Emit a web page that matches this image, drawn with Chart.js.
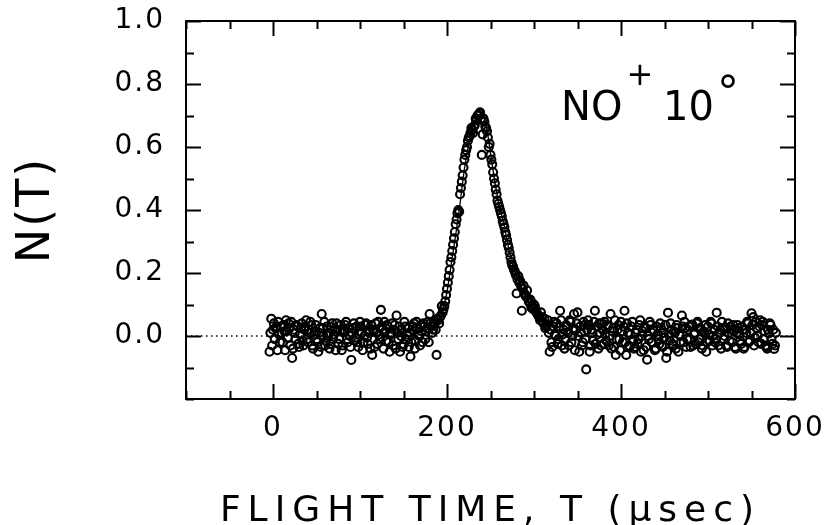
<!DOCTYPE html>
<html>
<head>
<meta charset="utf-8">
<script src="https://cdn.jsdelivr.net/npm/chart.js@4.4.0/dist/chart.umd.min.js"></script>
<style>
  html, body { margin: 0; padding: 0; background: #fff; }
  #wrap { width: 829px; height: 525px; }
</style>
</head>
<body>
<div id="wrap"><canvas id="tof"></canvas></div>
<script>
// measured points, even channels: flight time (usec) and N(T)
var times = [
  -4, -2, 0, 2, 4, 6, 8, 10, 12, 14,
  16, 18, 20, 22, 24, 26, 28, 30, 32, 34,
  36, 38, 40, 42, 44, 46, 48, 50, 52, 54,
  56, 58, 60, 62, 64, 66, 68, 70, 72, 74,
  76, 78, 80, 82, 84, 86, 88, 90, 92, 94,
  96, 98, 100, 102, 104, 106, 108, 110, 112, 114,
  116, 118, 120, 122, 124, 126, 128, 130, 132, 134,
  136, 138, 140, 142, 144, 146, 148, 150, 152, 154,
  156, 158, 160, 162, 164, 166, 168, 170, 172, 174,
  176, 178, 180, 182, 184, 186, 188, 190, 192, 194,
  196, 198, 200, 202, 204, 206, 208, 210, 212, 214,
  216, 218, 220, 222, 224, 226, 228, 230, 232, 234,
  236, 238, 240, 242, 244, 246, 248, 250, 252, 254,
  256, 258, 260, 262, 264, 266, 268, 270, 272, 274,
  276, 278, 280, 282, 284, 286, 288, 290, 292, 294,
  296, 298, 300, 302, 304, 306, 308, 310, 312, 314,
  316, 318, 320, 322, 324, 326, 328, 330, 332, 334,
  336, 338, 340, 342, 344, 346, 348, 350, 352, 354,
  356, 358, 360, 362, 364, 366, 368, 370, 372, 374,
  376, 378, 380, 382, 384, 386, 388, 390, 392, 394,
  396, 398, 400, 402, 404, 406, 408, 410, 412, 414,
  416, 418, 420, 422, 424, 426, 428, 430, 432, 434,
  436, 438, 440, 442, 444, 446, 448, 450, 452, 454,
  456, 458, 460, 462, 464, 466, 468, 470, 472, 474,
  476, 478, 480, 482, 484, 486, 488, 490, 492, 494,
  496, 498, 500, 502, 504, 506, 508, 510, 512, 514,
  516, 518, 520, 522, 524, 526, 528, 530, 532, 534,
  536, 538, 540, 542, 544, 546, 548, 550, 552, 554,
  556, 558, 560, 562, 564, 566, 568, 570, 572, 574,
  576, 578
];
var counts = [
  -0.05, 0.055, 0.02, -0.01, 0.03, 0.045, -0.02, 0.01, 0.035, -0.045,
  0.015, 0.04, -0.03, -0.07, 0.02, -0.01, 0.03, -0.035, 0.025, -0.015,
  0.02, 0.05, -0.02, 0.01, 0.035, -0.04, 0.015, -0.01, -0.05, 0.025,
  0.07, 0.0, -0.03, 0.03, 0.01, -0.025, 0.04, 0.005, -0.045, 0.02,
  -0.01, 0.035, -0.03, 0.015, 0.045, -0.02, 0.0, -0.076, 0.025, -0.015,
  0.03, -0.035, 0.045, 0.01, -0.02, 0.035, -0.005, 0.02, -0.04, -0.06,
  0.015, 0.04, -0.025, 0.005, 0.083, 0.02, 0.045, -0.015, 0.03, -0.05,
  0.01, -0.03, 0.035, 0.065, -0.01, -0.05, 0.02, -0.025, 0.03, 0.005,
  -0.035, -0.065, 0.02, 0.04, -0.015, 0.025, 0.0, 0.035, -0.02, 0.03,
  0.015, 0.045, 0.07, 0.03, 0.02, 0.04, -0.06, 0.05, 0.06, 0.095,
  0.085, 0.11, 0.15, 0.19, 0.235, 0.27, 0.31, 0.355, 0.39, 0.395,
  0.47, 0.51, 0.56, 0.59, 0.62, 0.635, 0.66, 0.645, 0.67, 0.685,
  0.70, 0.71, 0.575, 0.69, 0.665, 0.65, 0.60, 0.575, 0.545, 0.50,
  0.465, 0.43, 0.41, 0.39, 0.365, 0.345, 0.32, 0.29, 0.265, 0.235,
  0.22, 0.205, 0.135, 0.19, 0.175, 0.08, 0.16, 0.13, 0.145, 0.11,
  0.115, 0.095, 0.10, 0.08, 0.07, 0.06, 0.075, 0.045, 0.055, 0.03,
  0.05, -0.05, -0.02, 0.03, 0.005, 0.04, -0.01, 0.08, -0.03, 0.02,
  -0.01, 0.03, -0.03, 0.045, 0.0, 0.07, 0.02, 0.075, -0.05, 0.01,
  -0.02, 0.035, -0.106, 0.05, -0.05, 0.02, -0.015, 0.08, 0.03, -0.04,
  0.01, 0.04, -0.025, 0.005, 0.035, -0.03, 0.07, 0.015, -0.035, -0.06,
  0.02, -0.01, 0.045, -0.02, 0.08, -0.06, 0.01, -0.035, 0.03, -0.015,
  -0.035, 0.02, -0.01, 0.05, 0.0, -0.045, 0.025, -0.075, -0.01, 0.035,
  -0.02, 0.015, -0.04, 0.005, -0.025, 0.025, -0.035, -0.005, -0.07, 0.074,
  -0.015, 0.02, -0.03, 0.01, 0.035, -0.05, 0.0, 0.065, -0.02, 0.025,
  -0.01, 0.03, -0.035, 0.036, 0.005, -0.025, 0.045, -0.01, 0.02, -0.03,
  0.01, -0.05, 0.03, -0.015, 0.04, 0.0, -0.02, 0.074, -0.03, 0.02,
  0.045, -0.01, 0.025, -0.035, 0.01, 0.03, -0.02, 0.015, -0.04, 0.035,
  0.005, -0.025, 0.02, -0.035, 0.01, 0.04, -0.015, 0.072, 0.06, -0.005,
  0.025, -0.02, 0.05, 0.035, -0.01, -0.03, -0.04, 0.008, 0.035, -0.025,
  -0.041, 0.01
];
// measured points, odd channels
var timesB = [
  -3, -1, 1, 3, 5, 7, 9, 11, 13, 15,
  17, 19, 21, 23, 25, 27, 29, 31, 33, 35,
  37, 39, 41, 43, 45, 47, 49, 51, 53, 55,
  57, 59, 61, 63, 65, 67, 69, 71, 73, 75,
  77, 79, 81, 83, 85, 87, 89, 91, 93, 95,
  97, 99, 101, 103, 105, 107, 109, 111, 113, 115,
  117, 119, 121, 123, 125, 127, 129, 131, 133, 135,
  137, 139, 141, 143, 145, 147, 149, 151, 153, 155,
  157, 159, 161, 163, 165, 167, 169, 171, 173, 175,
  177, 179, 181, 183, 185, 187, 189, 191, 193, 195,
  197, 199, 201, 203, 205, 207, 209, 211, 213, 215,
  217, 219, 221, 223, 225, 227, 229, 231, 233, 235,
  237, 239, 241, 243, 245, 247, 249, 251, 253, 255,
  257, 259, 261, 263, 265, 267, 269, 271, 273, 275,
  277, 279, 281, 283, 285, 287, 289, 291, 293, 295,
  297, 299, 301, 303, 305, 307, 309, 311, 313, 315,
  317, 319, 321, 323, 325, 327, 329, 331, 333, 335,
  337, 339, 341, 343, 345, 347, 349, 351, 353, 355,
  357, 359, 361, 363, 365, 367, 369, 371, 373, 375,
  377, 379, 381, 383, 385, 387, 389, 391, 393, 395,
  397, 399, 401, 403, 405, 407, 409, 411, 413, 415,
  417, 419, 421, 423, 425, 427, 429, 431, 433, 435,
  437, 439, 441, 443, 445, 447, 449, 451, 453, 455,
  457, 459, 461, 463, 465, 467, 469, 471, 473, 475,
  477, 479, 481, 483, 485, 487, 489, 491, 493, 495,
  497, 499, 501, 503, 505, 507, 509, 511, 513, 515,
  517, 519, 521, 523, 525, 527, 529, 531, 533, 535,
  537, 539, 541, 543, 545, 547, 549, 551, 553, 555,
  557, 559, 561, 563, 565, 567, 569, 571, 573, 575,
  577
];
var countsB = [
  0.01, -0.03, 0.04, 0.025, -0.045, 0.005, 0.03, -0.02, 0.015, 0.05,
  -0.005, 0.025, 0.045, -0.04, 0.01, 0.035, -0.025, 0.005, 0.04, -0.03,
  0.03, -0.01, 0.02, 0.045, -0.03, 0.005, 0.035, -0.02, 0.01, -0.035,
  0.025, 0.045, -0.015, 0.0, -0.04, 0.03, -0.01, 0.02, 0.04, -0.025,
  0.015, -0.045, 0.02, 0.035, -0.01, 0.025, -0.035, 0.01, 0.04, -0.005,
  -0.02, 0.015, 0.03, -0.045, 0.0, 0.04, -0.025, 0.01, 0.035, 0.02,
  -0.035, 0.01, 0.045, -0.01, 0.03, -0.04, 0.015, 0.035, -0.02, 0.005,
  0.04, 0.02, -0.04, 0.01, 0.03, 0.0, -0.035, 0.045, -0.01, 0.025,
  0.01, -0.02, 0.03, -0.04, 0.045, 0.005, -0.03, 0.015, 0.04, -0.01,
  0.025, -0.02, 0.04, 0.01, 0.045, 0.02, 0.055, 0.04, 0.065, 0.075,
  0.095, 0.13, 0.17, 0.21, 0.25, 0.29, 0.33, 0.37, 0.40, 0.45,
  0.49, 0.535, 0.575, 0.60, 0.63, 0.645, 0.655, 0.665, 0.69, 0.70,
  0.705, 0.69, 0.64, 0.68, 0.66, 0.63, 0.61, 0.56, 0.52, 0.485,
  0.45, 0.42, 0.40, 0.38, 0.355, 0.33, 0.305, 0.28, 0.25, 0.225,
  0.21, 0.195, 0.18, 0.17, 0.16, 0.15, 0.135, 0.125, 0.12, 0.105,
  0.09, 0.085, 0.095, 0.075, 0.065, 0.05, 0.06, 0.04, 0.025, 0.035,
  0.01, 0.02, -0.035, 0.045, 0.0, -0.025, 0.03, 0.05, 0.005, -0.04,
  0.035, 0.01, 0.05, -0.02, 0.025, -0.045, 0.04, 0.0, 0.03, -0.03,
  0.045, -0.01, 0.02, 0.035, -0.03, 0.01, 0.045, -0.025, 0.005, 0.04,
  -0.03, 0.02, 0.045, -0.015, 0.03, 0.0, -0.04, 0.025, 0.05, -0.01,
  0.035, -0.045, 0.015, 0.03, -0.02, 0.04, -0.03, 0.005, 0.045, -0.04,
  0.01, -0.025, 0.035, -0.05, 0.015, 0.03, -0.035, 0.0, 0.045, -0.02,
  0.02, -0.045, 0.03, -0.01, 0.04, -0.03, 0.01, 0.035, -0.05, 0.005,
  0.04, -0.025, 0.015, -0.04, 0.025, 0.005, -0.02, 0.03, 0.045, -0.035,
  0.02, -0.01, 0.035, -0.03, 0.01, 0.04, -0.02, 0.025, -0.04, 0.015,
  0.035, -0.02, 0.005, 0.045, -0.03, 0.02, -0.01, 0.03, 0.01, -0.04,
  0.025, 0.0, -0.03, 0.04, -0.015, 0.02, 0.035, -0.035, 0.01, 0.025,
  -0.015, 0.03, -0.04, 0.02, 0.045, -0.02, 0.01, 0.035, -0.03, 0.045,
  0.0, 0.03, -0.025, 0.045, 0.015, -0.035, 0.02, 0.04, -0.01, 0.02,
  -0.03
];
// fitted curve through the peak
var fitTimes = [150, 170, 180, 185, 190, 195, 200, 205, 210, 215, 220, 225, 230, 235, 240,
  245, 250, 255, 260, 265, 270, 275, 280, 285, 290, 295, 300, 310, 320, 330, 345, 360];
var fitCounts = [0.0, 0.005, 0.015, 0.03, 0.05, 0.08, 0.14, 0.23, 0.32, 0.42, 0.53, 0.61, 0.665, 0.70, 0.705,
  0.67, 0.58, 0.49, 0.415, 0.36, 0.29, 0.23, 0.19, 0.16, 0.13, 0.105, 0.085, 0.055, 0.03, 0.015, 0.005, 0.0];

var xTickLabels = [0, 200, 400, 600];
var yTickLabels = [0.0, 0.2, 0.4, 0.6, 0.8, 1.0];
var xRange = [-100, 600];
var yRange = [-0.2, 1.0];

var points = [];
for (var i = 0; i < times.length; i++) {
  points.push({ x: times[i], y: counts[i] });
}
for (var m = 0; m < timesB.length; m++) {
  points.push({ x: timesB[m], y: countsB[m] });
}
var fitPoints = [];
for (var j = 0; j < fitTimes.length; j++) {
  fitPoints.push({ x: fitTimes[j], y: fitCounts[j] });
}

function isYMajor(v) {
  for (var k = 0; k < yTickLabels.length; k++) {
    if (Math.abs(v - yTickLabels[k]) < 1e-6) return true;
  }
  return false;
}

// box, inward ticks on all four sides, and the NO+ 10° note
var frameTicks = {
  id: 'frameTicks',
  beforeDraw: function(chart) { chart.ctx.letterSpacing = '7px'; },
  beforeDatasetsDraw: function(chart) { chart.ctx.letterSpacing = '0px'; },
  afterDatasetsDraw: function(chart) { chart.ctx.letterSpacing = '2px'; },
  afterDraw: function(chart) {
    var ctx = chart.ctx;
    var a = chart.chartArea;
    var xs = chart.scales.x, ys = chart.scales.y;
    ctx.save();
    ctx.letterSpacing = '0px';
    ctx.strokeStyle = '#000';
    ctx.lineWidth = 2;
    ctx.strokeRect(a.left, a.top, a.right - a.left, a.bottom - a.top);
    ctx.beginPath();
    xs.ticks.forEach(function(t) {
      var px = Math.round(xs.getPixelForValue(t.value)) + 0.5;
      var len = xTickLabels.indexOf(t.value) >= 0 ? 15 : 8;
      ctx.moveTo(px, a.bottom); ctx.lineTo(px, a.bottom - len);
      ctx.moveTo(px, a.top); ctx.lineTo(px, a.top + len);
    });
    ys.ticks.forEach(function(t) {
      var py = Math.round(ys.getPixelForValue(t.value)) + 0.5;
      var len = isYMajor(t.value) ? 15 : 8;
      ctx.moveTo(a.left, py); ctx.lineTo(a.left + len, py);
      ctx.moveTo(a.right, py); ctx.lineTo(a.right - len, py);
    });
    ctx.stroke();

    ctx.fillStyle = '#000';
    ctx.textBaseline = 'alphabetic';
    ctx.textAlign = 'left';
    ctx.font = '40px "DejaVu Sans"';
    ctx.fillText('NO', 561, 120);
    ctx.fillText('10', 663, 120);
    ctx.font = '44px "DejaVu Sans"';
    ctx.fillText('\u00B0', 717, 107);
    ctx.font = '32px "DejaVu Sans"';
    ctx.textAlign = 'center';
    ctx.textBaseline = 'middle';
    ctx.fillText('+', 640, 77);
    ctx.restore();
  }
};

var ctx = document.getElementById('tof');
var chart = new Chart(ctx, {
  type: 'scatter',
  data: {
    datasets: [
      {
        label: 'N(T)',
        data: points,
        pointRadius: 4,
        pointBorderWidth: 2.1,
        pointBorderColor: '#000',
        pointBackgroundColor: 'rgba(0,0,0,0)',
        order: 1
      },
      {
        type: 'line',
        label: 'fit',
        data: fitPoints,
        borderColor: '#000',
        borderWidth: 1.3,
        pointRadius: 0,
        cubicInterpolationMode: 'monotone',
        fill: false,
        order: 2
      },
      {
        type: 'line',
        label: 'zero',
        data: [{ x: xRange[0], y: 0 }, { x: xRange[1], y: 0 }],
        borderColor: '#000',
        borderWidth: 1.5,
        borderDash: [1.5, 3.5],
        pointRadius: 0,
        fill: false,
        order: 3
      }
    ]
  },
  plugins: [frameTicks],
  options: {
    responsive: true,
    maintainAspectRatio: false,
    animation: false,
    layout: { padding: { top: 21, right: 34, left: 0, bottom: 0 } },
    plugins: {
      legend: { display: false },
      tooltip: { enabled: false }
    },
    scales: {
      x: {
        type: 'linear',
        min: xRange[0],
        max: xRange[1],
        afterFit: function(s) { s.height = 126; s.paddingLeft = 0; s.paddingRight = 0; },
        grid: { display: false, drawTicks: false, z: -1 },
        border: { display: false },
        ticks: {
          stepSize: 50,
          autoSkip: false,
          maxRotation: 0,
          padding: 13,
          color: '#000',
          z: 1,
          font: { family: 'DejaVu Sans', size: 28 },
          callback: function(v) { return xTickLabels.indexOf(v) >= 0 ? String(v) : ''; }
        },
        title: {
          display: true,
          text: 'FLIGHT TIME, T (\u03BCsec)',
          color: '#000',
          padding: { top: 0, bottom: 1 },
          font: { family: 'DejaVu Sans', size: 36, lineHeight: 0.7 }
        }
      },
      y: {
        type: 'linear',
        min: yRange[0],
        max: yRange[1],
        afterFit: function(s) { s.width = 186; s.paddingTop = 0; s.paddingBottom = 0; },
        grid: { display: false, drawTicks: false, z: 1 },
        border: { display: false },
        ticks: {
          stepSize: 0.1,
          autoSkip: false,
          padding: 21,
          color: '#000',
          z: 1,
          font: { family: 'DejaVu Sans', size: 28 },
          callback: function(v) { return isYMajor(v) ? (Math.round(v * 10) / 10).toFixed(1) : ''; }
        },
        title: {
          display: true,
          text: 'N(T)',
          color: '#000',
          padding: { top: 9, bottom: 0 },
          font: { family: 'DejaVu Sans', size: 46 }
        }
      }
    }
  }
});
</script>
</body>
</html>
